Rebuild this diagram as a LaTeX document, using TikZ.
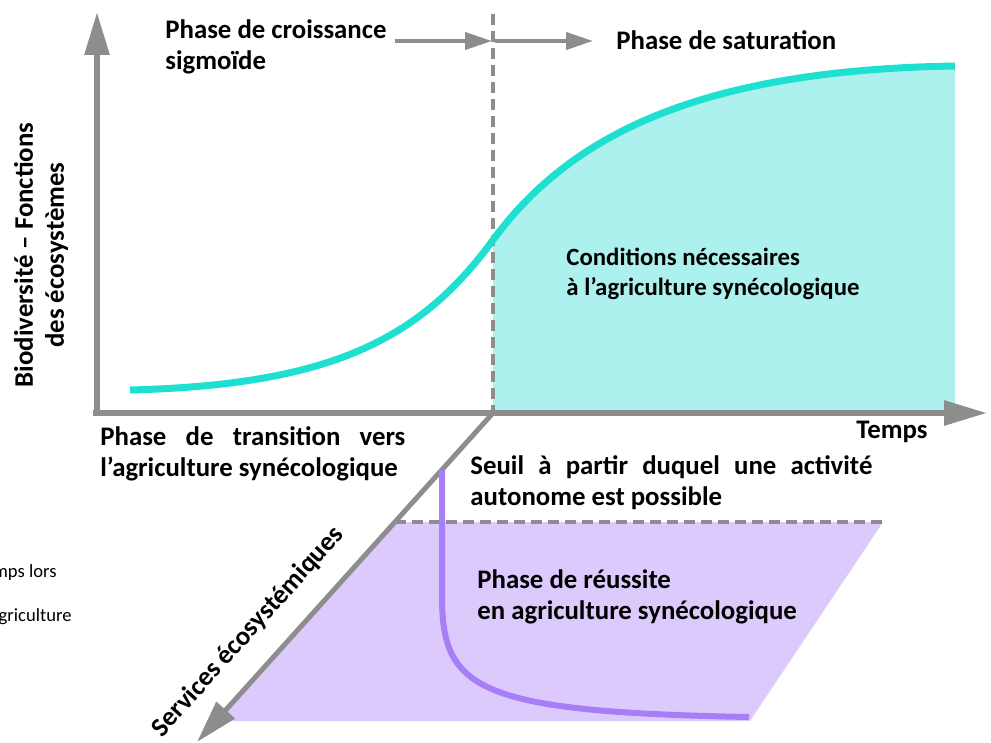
\documentclass[tikz,border=0pt]{standalone}
\usepackage{fontspec}
\setmainfont{Carlito}
\usepackage{tikz}
\usetikzlibrary{arrows.meta}
\pgfdeclarelayer{bg}
\pgfsetlayers{bg,main}

\definecolor{axisgray}{RGB}{141,141,141}
\definecolor{tealline}{RGB}{30,224,208}
\definecolor{tealfill}{RGB}{172,241,237}
\definecolor{lilacline}{RGB}{168,125,248}
\definecolor{lilacfill}{RGB}{220,202,252}

\begin{document}
\begin{tikzpicture}[x=0.5pt,y=-0.5pt]
    \useasboundingbox (0,0) rectangle (991,743);
    \tikzstyle{axis}=[draw=axisgray,line width=3pt,-{Triangle[length=21.5pt,width=12pt]}]
    \tikzstyle{phase arrow}=[draw=axisgray,line width=2pt,-{Triangle[length=13.5pt,width=8.5pt]}]
    \tikzstyle{guide}=[draw=axisgray,line width=2pt,dash pattern=on 5.5pt off 3pt]
    \tikzstyle{every node}=[inner sep=0pt,align=left,font=\fontsize{13.4}{15.5}\selectfont\bfseries]

    % axes and guide lines
    \coordinate (o) at (97,413);
    \coordinate (y_tip) at (97,12);
    \coordinate (x_0) at (93,413);
    \coordinate (x_tip) at (987,413);
    \coordinate (s_0) at (493,413);
    \coordinate (z_tip) at (197,742);
    \coordinate (g_top) at (493,14);
    \coordinate (t_left) at (395,522);
    \coordinate (t_right) at (883,522);
    \coordinate (p_1) at (395,41);
    \coordinate (p_2) at (492,41);
    \coordinate (p_3) at (495,41);
    \coordinate (p_4) at (593,41);

    \begin{pgfonlayer}{bg}
        \fill[tealfill] (493,240) .. controls (570,135) and (700,70) .. (955,66) -- (955,413) -- (s_0) -- cycle;
        \fill[lilacfill] (t_left) -- (t_right) -- (750,721) -- (218,721) -- cycle;
    \end{pgfonlayer}

    \draw[guide] (g_top) -- (s_0);
    \draw[guide] (t_left) -- (t_right);
    \draw[axis] ([yshift=-1.5pt]o) -- (y_tip);
    \draw[axis] (x_0) -- (x_tip);
    \draw[axis,line width=2.5pt] (s_0) -- (z_tip);
    \draw[phase arrow] (p_1) -- (p_2);
    \draw[phase arrow] (p_3) -- (p_4);

    % curves
    \draw[tealline,line width=3.5pt] (130,390) .. controls (330,385) and (420,340) .. (493,240) .. controls (570,135) and (700,70) .. (955,66);
    \draw[lilacline,line width=3pt] (442,470) -- (442,600) .. controls (443,690) and (480,712) .. (749,717);

    % labels
    \node[anchor=north west] (lbl_sig) at (165,19) {Phase de croissance\\sigmoïde};
    \node[anchor=west] (lbl_sat) at (616,40) {Phase de saturation};
    \node[anchor=north west,font=\fontsize{12.4}{14.7}\selectfont\bfseries] (lbl_cond) at (566,248) {Conditions nécessaires\\à l’agriculture synécologique};
    \node[anchor=north west] (lbl_trans) at (100,426) {\makebox[152.5pt][s]{Phase de transition vers}\\l’agriculture synécologique};
    \node[anchor=east] (lbl_temps) at (928,432) {Temps};
    \node[anchor=north west] (lbl_seuil) at (470,455) {\makebox[201pt][s]{Seuil à partir duquel une activité}\\autonome est possible};
    \node[anchor=north west] (lbl_reus) at (477,569) {Phase de réussite\\en agriculture synécologique};
    \node[rotate=90,align=center] (lbl_bio) at (41,255) {Biodiversité – Fonctions\\des écosystèmes};
    \node[rotate=48] (lbl_serv) at (248,632) {Services écosystémiques};
    \node[anchor=east,font=\fontsize{9.3}{11}\selectfont] (cut_1) at (57,573) {mps lors};
    \node[anchor=east,font=\fontsize{9.3}{11}\selectfont] (cut_2) at (72,617) {griculture};
\end{tikzpicture}
\end{document}
